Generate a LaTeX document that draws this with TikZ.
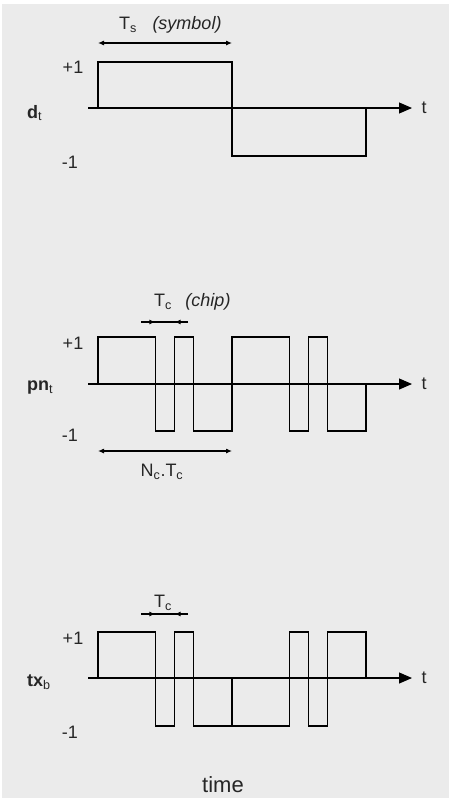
\documentclass[tikz,border=0pt]{standalone}
\usepackage{fontspec}
\setmainfont{Liberation Sans}
\usetikzlibrary{arrows.meta}
\begin{document}
\begin{tikzpicture}[x=1pt,y=-1pt,
  every node/.style={font=\fontsize{18}{21}\selectfont, text=black!85, inner sep=0pt},
  sig/.style={font=\fontsize{18}{21}\selectfont\bfseries, anchor=west},
  wave/.style={line width=1.1pt},
  axis/.style={line width=1.1pt, -{Triangle[length=13pt,width=11pt]}},
  span/.style={line width=1.1pt, {Latex[length=6pt,width=5pt]}-{Latex[length=6pt,width=5pt]}},
  chipmark/.style={line width=1.1pt, -{Latex[length=6pt,width=5pt]}}]
  \useasboundingbox (0,0) rectangle (449,798);
  \fill[gray!16] (2,4) rectangle (449,798);

  % data signal
  \node (ts) at (128,25) {T\textsubscript{s}};
  \node (symb) at (187,25) {\itshape (symbol)};
  \node[sig] (dt) at (27,113) {d\textsubscript{\mdseries t}};
  \node (dp) at (73,67) {+1};
  \node (dm) at (70,162) {-1};
  \node (dtt) at (424,108) {t};
  \coordinate (tsa) at (98,43);
  \coordinate (tsb) at (232,43);
  \coordinate (da) at (88,108);
  \coordinate (db) at (412,108);
  \draw[span] (tsa) -- (tsb);
  \draw[axis] (da) -- (db);
  \draw[wave] (98,108) |- (232,62) |- (366,156) -- (366,108);

  % pn code
  \node (tc) at (163,302) {T\textsubscript{c}};
  \node (chip) at (208,302) {\itshape (chip)};
  \node[sig] (pn) at (27,388) {pn\textsubscript{\mdseries t}};
  \node (pp) at (73,343) {+1};
  \node (pm) at (70,435) {-1};
  \node (pnt) at (424,384) {t};
  \node (nctc) at (162,472) {N\textsubscript{c}.T\textsubscript{c}};
  \coordinate (tca) at (141,322);
  \coordinate (tcb) at (188,322);
  \coordinate (tcl) at (155.4,322);
  \coordinate (tcr) at (174.6,322);
  \coordinate (nca) at (98,451);
  \coordinate (ncb) at (232,451);
  \coordinate (pa) at (88,384);
  \coordinate (pb) at (412,384);
  \draw[line width=1.1pt] (tca) -- (tcb);
  \draw[chipmark] (tca) -- (tcl);
  \draw[chipmark] (tcb) -- (tcr);
  \draw[span] (nca) -- (ncb);
  \draw[axis] (pa) -- (pb);
  \draw[wave] (98,384) |- (155.4,337) |- (174.6,431) |- (193.7,337) |- (232,431)
    |- (289.4,337) |- (308.6,431) |- (327.7,337) |- (366,431) -- (366,384);

  % transmitted signal
  \node (tc2) at (163,603) {T\textsubscript{c}};
  \node[sig] (tx) at (27,682) {tx\textsubscript{\mdseries b}};
  \node (xp) at (73,638) {+1};
  \node (xm) at (70,732) {-1};
  \node (txt) at (424,678) {t};
  \node[font=\fontsize{22}{26}\selectfont] (time) at (223,785) {time};
  \coordinate (tc2a) at (141,614);
  \coordinate (tc2b) at (188,614);
  \coordinate (tc2l) at (155.4,614);
  \coordinate (tc2r) at (174.6,614);
  \coordinate (xa) at (88,678);
  \coordinate (xb) at (412,678);
  \draw[line width=1.1pt] (tc2a) -- (tc2b);
  \draw[chipmark] (tc2a) -- (tc2l);
  \draw[chipmark] (tc2b) -- (tc2r);
  \draw[axis] (xa) -- (xb);
  \draw[wave] (98,678) |- (155.4,632) |- (174.6,726) |- (193.7,632) |- (232,726) -- (232,678);
  \draw[wave] (232,678) |- (289.4,726) |- (308.6,632) |- (327.7,726) |- (366,632) -- (366,678);
\end{tikzpicture}
\end{document}
